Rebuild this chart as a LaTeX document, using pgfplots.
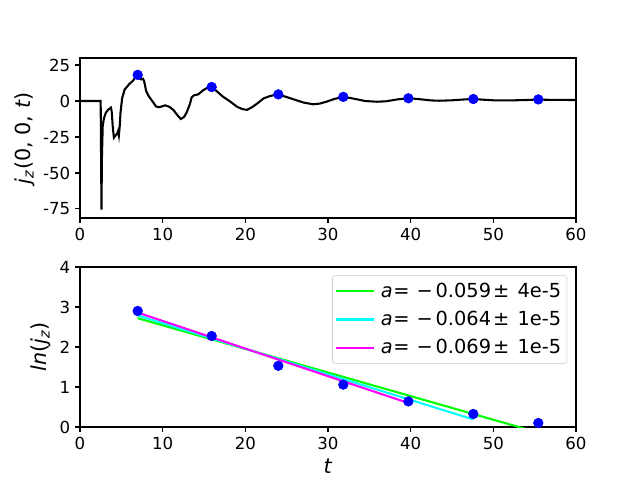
\documentclass[border=0pt]{standalone}
\usepackage{fontspec}
\setmainfont{DejaVu Sans}
\usepackage{pgfplots}
\pgfplotsset{compat=1.18}
\definecolor{lgray}{rgb}{0.8,0.8,0.8}
\definecolor{mgreen}{rgb}{0,1,0}
\definecolor{mcyan}{rgb}{0,1,1}
\definecolor{mmag}{rgb}{1,0,1}
\definecolor{mblue}{rgb}{0,0,1}
\newcommand{\fit}[2]{\hspace{2pt}\textit{a}\kern0.5pt=\hspace{5pt}−\kern2pt#1\kern1.5pt±\hspace{6pt}#2}
\begin{document}
\begin{tikzpicture}
\useasboundingbox (0,0) rectangle (6.4in,4.8in);
\pgfplotsset{
  every axis/.append style={
    scale only axis,
    xmin=0, xmax=60,
    xtick={0,10,...,60},
    tick pos=left, tick align=outside,
    major tick length=3.5pt,
    every tick/.style={black, line width=0.8pt},
    axis line style={black, line width=0.8pt},
    /pgf/number format/assume math mode=true,
    ticklabel style={font=\fontsize{12}{14}\selectfont},
    label style={font=\fontsize{15}{18}\selectfont},
  }
}
\begin{axis}[
  name=top, at={(0.8in,2.62in)}, anchor=south west,
  width=4.96in, height=1.6in,
  ymin=-81.3, ymax=29.9,
  ytick={-75,-50,-25,0,25},
  ylabel={\textit{j}\textsubscript{\textit{z}}(0, 0, \textit{t})},
  ylabel style={at={(axis description cs:-0.111,0.5)}, anchor=center},
]
\addplot[black, line width=1.5pt] coordinates {
(0,0) (2.5,0) (2.55,-40) (2.6,-75.5) (2.65,-40) (2.75,-17) (2.9,-12) (3.1,-8.5) (3.4,-6) (3.75,-4.6) (3.85,-8) (3.95,-17) (4.1,-25.5) (4.3,-24) (4.5,-22.5) (4.6,-21) (4.7,-24) (4.8,-18) (4.9,-8) (5.1,2) (5.4,8) (6.0,12) (6.4,14) (6.8,17.3) (7.1,16.2) (7.4,15) (7.6,15.5) (7.75,14) (8.0,7) (8.3,3.5) (8.7,0.3) (9.2,-3.8) (9.6,-4.3) (10.3,-3) (10.8,-4) (11.3,-6.2) (11.8,-10) (12.2,-12.5) (12.6,-11) (12.9,-8) (13.3,-2) (13.5,2.5) (13.8,4) (14.3,4.6) (14.9,7.5) (15.5,9.5) (15.9,10) (16.4,7.5) (17.3,3) (18.2,-0.5) (19.0,-4) (19.6,-5.5) (20.2,-6.2) (20.9,-4) (21.6,-1) (22.2,1.8) (23.0,3.5) (24.0,4.6) (25.4,2) (27.0,-1) (28.2,-2.3) (29.0,-1.8) (29.8,-0.5) (30.8,1.5) (31.8,2.7) (32.6,2.2) (33.5,1.2) (34.5,0) (35.9,-0.5) (37.0,-0.2) (38.5,1.2) (39.7,1.9) (40.7,1.5) (41.5,1.0) (42.5,0.4) (43.5,0.2) (45.0,0.5) (46.5,1.1) (47.6,1.4) (48.8,0.9) (50,0.5) (52,0.4) (54,0.7) (55.4,1.0) (57,0.8) (60,0.7)
};
\addplot[only marks, mark=*, mark size=3.5pt, color=mblue, mark options={fill=mblue, draw=mblue}] coordinates {
(6.98,18.17) (15.93,9.73) (23.99,4.62) (31.85,2.89) (39.72,1.90) (47.58,1.38) (55.44,1.105)
};
\end{axis}
\begin{axis}[
  name=bot, at={(0.8in,0.53in)}, anchor=south west,
  width=4.96in, height=1.6in,
  ymin=0, ymax=4,
  ytick={0,1,2,3,4},
  xlabel={\textit{t}},
  ylabel={\textit{ln}(\textit{j}\textsubscript{\textit{z}})},
  xlabel style={at={(axis description cs:0.5,-0.242)}, anchor=center},
  ylabel style={at={(axis description cs:-0.079,0.5)}, anchor=center},
  legend style={at={(axis description cs:0.982,0.95)}, anchor=north east,
    draw=lgray, rounded corners=2pt, fill=white, fill opacity=0.8, text opacity=1,
    font=\fontsize{14}{17}\selectfont, row sep=4.6pt, inner xsep=2pt, inner ysep=3.5pt,
    cells={anchor=west, inner xsep=4pt}},
  legend image code/.code={\draw[#1, line width=1.5pt] (0pt,0pt) -- (27.5pt,0pt);},
]
\addplot[color=mgreen, line width=1.5pt] coordinates {(6.98,2.72) (55.44,-0.139)};
\addlegendentry{\fit{0.059}{4e-5}}
\addplot[color=mcyan, line width=1.5pt] coordinates {(6.98,2.79) (47.58,0.19)};
\addlegendentry{\fit{0.064}{1e-5}}
\addplot[color=mmag, line width=1.5pt] coordinates {(6.98,2.86) (39.72,0.60)};
\addlegendentry{\fit{0.069}{1e-5}}
\addplot[only marks, mark=*, mark size=3.5pt, color=mblue, mark options={fill=mblue, draw=mblue}, forget plot] coordinates {
(6.98,2.9) (15.93,2.275) (23.99,1.53) (31.85,1.06) (39.72,0.64) (47.58,0.325) (55.44,0.1)
};
\end{axis}
\end{tikzpicture}
\end{document}
